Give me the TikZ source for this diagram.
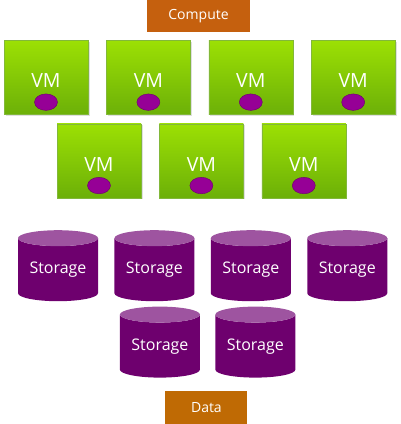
\documentclass[tikz,border=0pt]{standalone}
\usepackage{fontspec}
\setmainfont{Open Sans}
\usepackage{tikz}
\usetikzlibrary{shapes,shapes.geometric,positioning,shadows}
\definecolor{tagorange}{HTML}{C5600E}
\definecolor{dataorange}{HTML}{BF6A04}
\definecolor{vmtop}{HTML}{9CE004}
\definecolor{vmbottom}{HTML}{6CB008}
\definecolor{vmedge}{HTML}{82B83A}
\definecolor{dotfill}{HTML}{960096}
\definecolor{dotedge}{HTML}{6A006A}
\definecolor{storebody}{HTML}{6E006E}
\definecolor{storetop}{HTML}{9E54A0}

\begin{document}
\begin{tikzpicture}[x=1pt,y=1pt,node distance=18pt,
	tag node/.style={rectangle, minimum width=103pt, minimum height=32pt, inner sep=0, text=white, font=\fontsize{14}{14}\selectfont},
	vm node/.style={rectangle, minimum width=84pt, minimum height=74pt, inner sep=0, text height=21pt, draw=vmedge, top color=vmtop, bottom color=vmbottom, text=white, font=\fontsize{19.5}{19.5}\selectfont, drop shadow={opacity=0.25, shadow xshift=1.5pt, shadow yshift=-1.5pt}},
	dot node/.style={ellipse, minimum width=23pt, minimum height=16.5pt, inner sep=0, fill=dotfill, draw=dotedge},
	store node/.style={cylinder, shape border rotate=90, aspect=0.28, minimum width=80pt, minimum height=71pt, inner sep=0, cylinder uses custom fill, cylinder body fill=storebody, cylinder end fill=storetop, text=white, font=\fontsize{16}{16}\selectfont}]
				\useasboundingbox (0,0) rectangle (400,-424);
				
				\node[tag node, fill=tagorange] (1) at (198.5,-16) {Compute};
				
				\node[vm node] (2) [below=8pt of 1, xshift=-152.5pt] {VM};
				\node[vm node] (3) [right=of 2] {VM};
				\node[vm node] (4) [right=of 3] {VM};
				\node[vm node] (5) [right=of 4] {VM};
				
				\node[vm node] (6) [below=9pt of 2, xshift=53pt] {VM};
				\node[vm node] (7) [right=of 6] {VM};
				\node[vm node] (8) [right=of 7] {VM};
				
				\node[dot node] (9) [above=4pt of 2.south] {};
				\node[dot node] (10) [above=4pt of 3.south] {};
				\node[dot node] (11) [above=4pt of 4.south] {};
				\node[dot node] (12) [above=4pt of 5.south] {};
				\node[dot node] (13) [above=4pt of 6.south] {};
				\node[dot node] (14) [above=4pt of 7.south] {};
				\node[dot node] (15) [above=4pt of 8.south] {};
				
				\node[store node] (16) [below=32pt of 6, xshift=-41pt] {Storage};
				\node[store node] (17) [right=16pt of 16] {Storage};
				\node[store node] (18) [right=16pt of 17] {Storage};
				\node[store node] (19) [right=16pt of 18] {Storage};
				
				\node[store node] (20) [below=5pt of 17, xshift=5.5pt] {Storage};
				\node[store node] (21) [right=15pt of 20] {Storage};
				
				\node[tag node, fill=dataorange, minimum width=82pt, minimum height=33pt] (22) [below=13pt of 20, xshift=46.5pt] {Data};
				
				\end{tikzpicture}
\end{document}
